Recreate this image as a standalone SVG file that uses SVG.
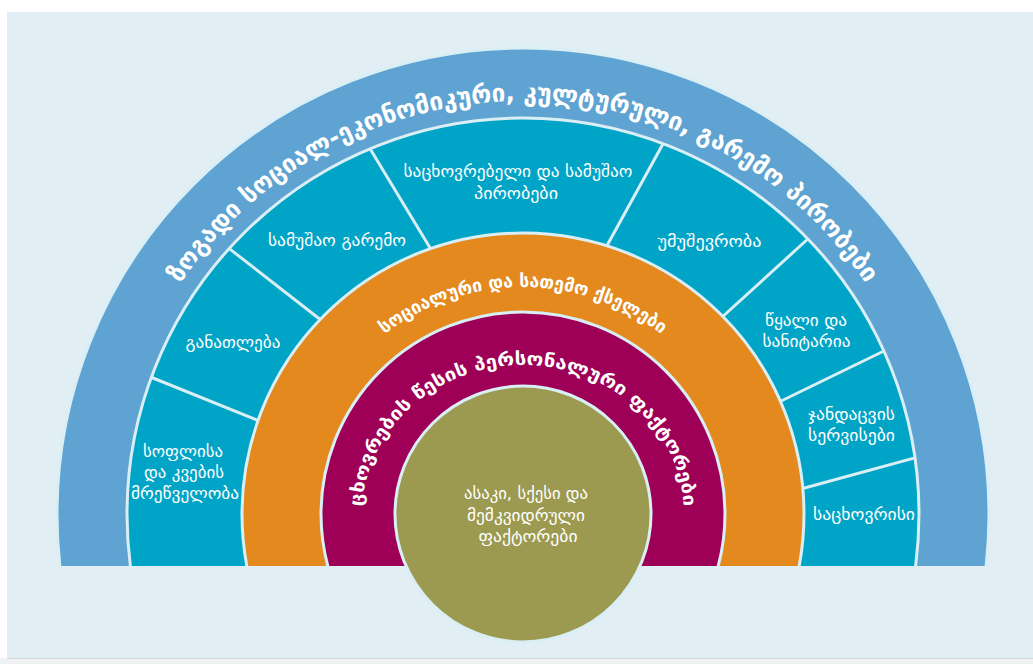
<svg xmlns="http://www.w3.org/2000/svg" width="1033" height="664" viewBox="0 0 1033 664">
<style>
.ring{stroke:#d9eef5;stroke-width:3}
.div{stroke:#d9eef5;stroke-width:3;fill:none}
.lbl{font-family:"DejaVu Sans","Noto Sans Georgian",sans-serif;fill:#ffffff;font-size:16px;text-anchor:middle}
.arc{font-family:"DejaVu Sans","Noto Sans Georgian",sans-serif;fill:#ffffff;font-weight:bold}
</style>
<defs>
<clipPath id="base"><rect x="0" y="0" width="1033" height="566"/></clipPath>
<clipPath id="tealclip"><circle cx="523" cy="514" r="395"/></clipPath>
<path id="pOuter" d="M 110 514 A 413 413 0 0 1 936 514"/>
<path id="pOrange" d="M 296 514 A 227 227 0 0 1 750 514"/>
<path id="pMagenta" d="M 362 514 A 161 149 0 0 1 684 514"/>
</defs>
<rect x="0" y="0" width="1033" height="664" fill="#ffffff"/>
<rect x="0" y="658" width="1033" height="6" fill="#f0f1f2"/>
<rect x="7" y="12" width="1026" height="646" fill="#e1eff5"/>
<line x1="7" y1="658.5" x2="1033" y2="658.5" stroke="#d6dadd" stroke-width="1"/>

<g clip-path="url(#base)">
<g id="ring-general"><circle class="ring" cx="523" cy="514" r="466" fill="#5ea3d1"/></g>
<g id="ring-living"><circle class="ring" cx="523" cy="514" r="396" fill="#00a4c6"/></g>
<g id="connectors" clip-path="url(#tealclip)">
<line class="div" x1="148" y1="376" x2="263" y2="422.5"/>
<line class="div" x1="228" y1="247.6" x2="326" y2="324"/>
<line class="div" x1="369" y1="147" x2="435" y2="256"/>
<line class="div" x1="664" y1="142" x2="604" y2="251"/>
<line class="div" x1="810" y1="237" x2="720" y2="319"/>
<line class="div" x1="887" y1="349.5" x2="777" y2="403"/>
<line class="div" x1="920" y1="456.5" x2="799" y2="489.5"/>
</g>
<g id="ring-social"><circle class="ring" cx="523" cy="514" r="281" fill="#e3891d"/></g>
<g id="ring-lifestyle"><circle class="ring" cx="523" cy="514" r="202" fill="#9d0056"/></g>
</g>
<g id="core"><circle class="ring" cx="523" cy="514" r="128" fill="#9c9a50"/>
<text class="lbl" x="526" y="499" textLength="124" lengthAdjust="spacingAndGlyphs">ასაკი, სქესი და</text>
<text class="lbl" x="526" y="520.5" textLength="118" lengthAdjust="spacingAndGlyphs">მემკვიდრული</text>
<text class="lbl" x="528" y="542" textLength="99" lengthAdjust="spacingAndGlyphs">ფაქტორები</text>
</g>

<g id="label-general"><text class="arc" font-size="25"><textPath href="#pOuter" startOffset="50%" text-anchor="middle" textLength="808" lengthAdjust="spacingAndGlyphs">ზოგადი სოციალ-ეკონომიკური, კულტურული, გარემო პირობები</textPath></text></g>
<g id="label-social"><text class="arc" font-size="18"><textPath href="#pOrange" startOffset="50%" text-anchor="middle" textLength="298" lengthAdjust="spacingAndGlyphs">სოციალური და სათემო ქსელები</textPath></text></g>
<g id="label-lifestyle"><text class="arc" font-size="18"><textPath href="#pMagenta" startOffset="50%" text-anchor="middle" textLength="472" lengthAdjust="spacingAndGlyphs">ცხოვრების წესის პერსონალური ფაქტორები</textPath></text></g>

<g id="seg-agriculture">
<text class="lbl" x="183" y="457" textLength="80" lengthAdjust="spacingAndGlyphs">სოფლისა</text>
<text class="lbl" x="184" y="478" textLength="80" lengthAdjust="spacingAndGlyphs">და კვების</text>
<text class="lbl" x="185" y="499" textLength="108" lengthAdjust="spacingAndGlyphs">მრეწველობა</text>
</g>
<g id="seg-education"><text class="lbl" x="233" y="348" textLength="95" lengthAdjust="spacingAndGlyphs">განათლება</text></g>
<g id="seg-work"><text class="lbl" x="337" y="246" textLength="138" lengthAdjust="spacingAndGlyphs">სამუშაო გარემო</text></g>
<g id="seg-conditions">
<text class="lbl" x="518" y="177" textLength="229" lengthAdjust="spacingAndGlyphs">საცხოვრებელი და სამუშაო</text>
<text class="lbl" x="516" y="199" textLength="84" lengthAdjust="spacingAndGlyphs">პირობები</text>
</g>
<g id="seg-unemployment"><text class="lbl" x="709.5" y="246.5" textLength="104" lengthAdjust="spacingAndGlyphs">უმუშევრობა</text></g>
<g id="seg-water">
<text class="lbl" x="806" y="325.5" textLength="82" lengthAdjust="spacingAndGlyphs">წყალი და</text>
<text class="lbl" x="806.5" y="346.5" textLength="88" lengthAdjust="spacingAndGlyphs">სანიტარია</text>
</g>
<g id="seg-health">
<text class="lbl" x="851.5" y="419.5" textLength="87" lengthAdjust="spacingAndGlyphs">ჯანდაცვის</text>
<text class="lbl" x="851.5" y="440.5" textLength="87" lengthAdjust="spacingAndGlyphs">სერვისები</text>
</g>
<g id="seg-housing"><text class="lbl" x="864" y="519.5" textLength="102" lengthAdjust="spacingAndGlyphs">საცხოვრისი</text></g>
</svg>
